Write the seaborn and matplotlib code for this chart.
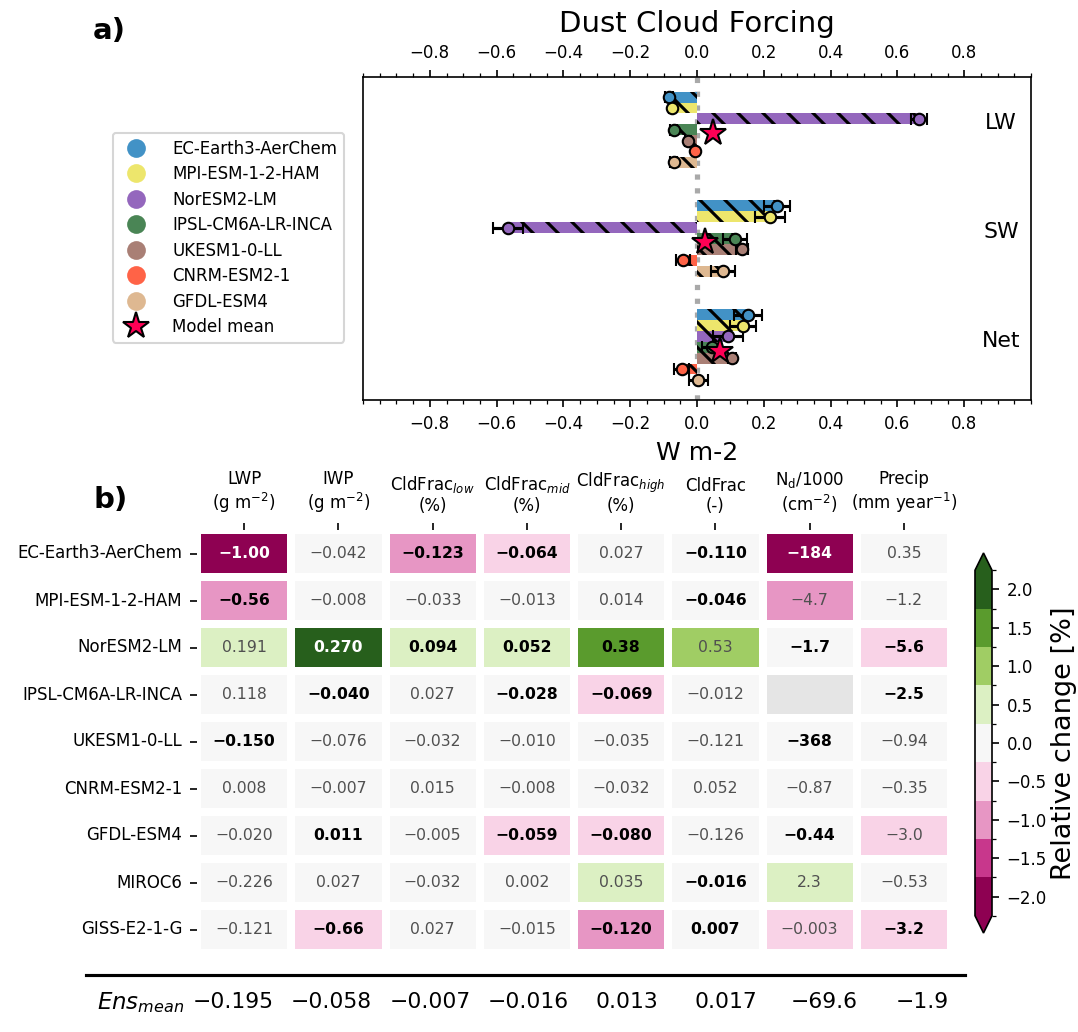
import numpy as np
import pandas as pd
import matplotlib
matplotlib.use("Agg")
import matplotlib.pyplot as plt
import seaborn as sns
from matplotlib.colors import ListedColormap, BoundaryNorm
from matplotlib.cm import ScalarMappable
from matplotlib.lines import Line2D
from matplotlib.ticker import MultipleLocator

# ---------------------------------------------------------------
# Panel a) data - dust cloud forcing per model (W m-2)
# ---------------------------------------------------------------
models_a = ["EC-Earth3-AerChem", "MPI-ESM-1-2-HAM", "NorESM2-LM",
            "IPSL-CM6A-LR-INCA", "UKESM1-0-LL", "CNRM-ESM2-1", "GFDL-ESM4"]
model_colors = ["#4292c6", "#ede66c", "#9467bd", "#4a8555",
                "#a97f75", "#ff6347", "#deb891"]
components = ["LW", "SW", "Net"]

lw_vals = [-0.084, -0.075, 0.665, -0.070, -0.027, -0.005, -0.070]
sw_vals = [0.240, 0.219, -0.566, 0.114, 0.135, -0.042, 0.078]
net_vals = [0.153, 0.138, 0.093, 0.044, 0.105, -0.046, 0.004]

lw_err = [0.012, 0.010, 0.025, 0.010, 0.008, 0.005, 0.010]
sw_err = [0.038, 0.045, 0.045, 0.035, 0.018, 0.020, 0.035]
net_err = [0.042, 0.040, 0.045, 0.028, 0.012, 0.022, 0.028]

# ---------------------------------------------------------------
# Panel b) data - heatmap of changes in cloud properties
# ---------------------------------------------------------------
models_b = ["EC-Earth3-AerChem", "MPI-ESM-1-2-HAM", "NorESM2-LM",
            "IPSL-CM6A-LR-INCA", "UKESM1-0-LL", "CNRM-ESM2-1",
            "GFDL-ESM4", "MIROC6", "GISS-E2-1-G"]
var_labels = ["LWP\n(g m$^{-2}$)", "IWP\n(g m$^{-2}$)",
              "CldFrac$_{low}$\n(%)", "CldFrac$_{mid}$\n(%)",
              "CldFrac$_{high}$\n(%)", "CldFrac\n(-)",
              "N$_\\mathrm{d}$/1000\n(cm$^{-2}$)", "Precip\n(mm year$^{-1}$)"]

# relative change [%] (colour of each cell)
rel_change = [
    [-2.0, 0.0, -1.0, -0.5, 0.0, 0.0, -2.0, 0.0],
    [-1.0, 0.0, 0.0, 0.0, 0.0, 0.0, -1.0, 0.0],
    [0.5, 2.0, 0.5, 0.5, 1.5, 1.0, 0.0, -0.5],
    [0.0, 0.0, 0.0, 0.0, -0.5, 0.0, np.nan, 0.0],
    [0.0, 0.0, 0.0, 0.0, 0.0, 0.0, 0.0, 0.0],
    [0.0, 0.0, 0.0, 0.0, 0.0, 0.0, 0.0, 0.0],
    [0.0, 0.0, 0.0, -0.5, -0.5, 0.0, 0.0, -0.5],
    [0.0, 0.0, 0.0, 0.0, 0.5, 0.0, 0.5, 0.0],
    [0.0, -0.5, 0.0, 0.0, -1.0, 0.0, -0.5, -0.5],
]
# absolute change (annotation text)
cell_text = [
    ["−1.00", "−0.042", "−0.123", "−0.064", "0.027", "−0.110", "−184", "0.35"],
    ["−0.56", "−0.008", "−0.033", "−0.013", "0.014", "−0.046", "−4.7", "−1.2"],
    ["0.191", "0.270", "0.094", "0.052", "0.38", "0.53", "−1.7", "−5.6"],
    ["0.118", "−0.040", "0.027", "−0.028", "−0.069", "−0.012", "", "−2.5"],
    ["−0.150", "−0.076", "−0.032", "−0.010", "−0.035", "−0.121", "−368", "−0.94"],
    ["0.008", "−0.007", "0.015", "−0.008", "−0.032", "0.052", "−0.87", "−0.35"],
    ["−0.020", "0.011", "−0.005", "−0.059", "−0.080", "−0.126", "−0.44", "−3.0"],
    ["−0.226", "0.027", "−0.032", "0.002", "0.035", "−0.016", "2.3", "−0.53"],
    ["−0.121", "−0.66", "0.027", "−0.015", "−0.120", "0.007", "−0.003", "−3.2"],
]
# significant values shown in bold
cell_bold = [
    [1, 0, 1, 1, 0, 1, 1, 0],
    [1, 0, 0, 0, 0, 1, 0, 0],
    [0, 1, 1, 1, 1, 0, 1, 1],
    [0, 1, 0, 1, 1, 0, 0, 1],
    [1, 0, 0, 0, 0, 0, 1, 0],
    [0, 0, 0, 0, 0, 0, 0, 0],
    [0, 1, 0, 1, 1, 0, 1, 0],
    [0, 0, 0, 0, 0, 1, 0, 0],
    [0, 1, 0, 0, 1, 1, 0, 1],
]
ens_mean = ["−0.195", "−0.058", "−0.007", "−0.016", "0.013", "0.017", "−69.6", "−1.9"]

bin_colors = ["#8e0152", "#c8378c", "#e796c4", "#f9d3e7", "#f7f7f7",
              "#dcf0c3", "#a0cd64", "#5a9b2d", "#275f1c"]

plt.rcParams["hatch.linewidth"] = 1.5

W, H = 1078, 1032
fig = plt.figure(figsize=(W / 150, H / 150), dpi=150)

# ---------------------------------------------------------------
# a) bar chart
# ---------------------------------------------------------------
ax1 = fig.add_axes([363 / W, 1 - 400 / H, 668 / W, 323 / H])

df_a = pd.DataFrame({
    "component": np.repeat(components, len(models_a)),
    "model": models_a * len(components),
    "forcing": lw_vals + sw_vals + net_vals,
})
ax1.axvline(0, color="darkgrey", ls=":", lw=2.5, zorder=0)
sns.barplot(data=df_a, x="forcing", y="component", hue="model",
            order=components, hue_order=models_a, palette=model_colors,
            orient="h", width=0.7, saturation=1, errorbar=None,
            legend=False, ax=ax1)
for bar in ax1.patches:
    bar.set_hatch("\\\\")
    bar.set_edgecolor("black")
    bar.set_linewidth(0)

errs = [lw_err, sw_err, net_err]
vals = [lw_vals, sw_vals, net_vals]
for g, comp in enumerate(components):
    for i, m in enumerate(models_a):
        y = g + (i - 3) * 0.1
        ax1.errorbar(vals[g][i], y, xerr=errs[g][i], fmt="o",
                     mfc=model_colors[i], mec="black", ms=5.5, mew=1,
                     ecolor="black", elinewidth=1.5, capsize=3,
                     capthick=1.5, zorder=3)
    ax1.plot(np.mean(vals[g]), g + 0.03, marker="*", ms=13,
             mfc="#ff0055", mec="black", mew=1, ls="", zorder=5)
    ax1.text(0.91, g - 0.06, comp, ha="center", va="center", fontsize=10.5)

ax1.set_xlim(-1, 1)
ax1.set_xticks(np.round(np.arange(-4, 5) * 0.2, 1))
ax1.xaxis.set_minor_locator(MultipleLocator(0.05))
ax1.tick_params(axis="x", which="both", top=True, labeltop=True,
                bottom=True, labelbottom=True, labelsize=8)
ax1.set_yticks([])
ax1.set_ylabel("")
ax1.set_xlabel("W m-2", fontsize=12)
ax1.set_title("Dust Cloud Forcing", fontsize=14, pad=6)

handles = [Line2D([], [], marker="o", ls="", color=c, ms=9, mew=0)
           for c in model_colors]
handles.append(Line2D([], [], marker="*", ls="", mfc="#ff0055",
                      mec="black", mew=1, ms=13))
fig.legend(handles, models_a + ["Model mean"], loc="upper left",
           bbox_to_anchor=(113 / W, 1 - 133 / H), fontsize=8,
           borderaxespad=0, handletextpad=1.15, labelspacing=0.45)

# ---------------------------------------------------------------
# b) heatmap
# ---------------------------------------------------------------
ax2 = fig.add_axes([197 / W, 1 - 953 / H, 754 / W, 423 / H])
cmap = ListedColormap(bin_colors)
df_b = pd.DataFrame(rel_change, index=models_b, columns=var_labels)
ax2.set_facecolor("#e5e5e5")
sns.heatmap(df_b, ax=ax2, cmap=cmap, vmin=-2.25, vmax=2.25, cbar=False,
            linewidths=3, linecolor="white")

for i in range(len(models_b)):
    for j in range(len(var_labels)):
        txt = cell_text[i][j]
        if not txt:
            continue
        bold = cell_bold[i][j]
        if abs(rel_change[i][j]) >= 1.75:
            col = "white"
        elif bold:
            col = "black"
        else:
            col = "#505050"
        ax2.text(j + 0.5, i + 0.5, txt, ha="center", va="center",
                 fontsize=7.5, color=col,
                 fontweight="bold" if bold else "normal")

ax2.xaxis.tick_top()
ax2.set_xticklabels(var_labels, rotation=0, fontsize=8)
ax2.set_yticklabels(models_b, rotation=0, fontsize=8)
ax2.tick_params(axis="x", top=True, bottom=False)
ax2.set_xlabel("")
ax2.set_ylabel("")

# colorbar axes spans the extension tips
cax = fig.add_axes([975 / W, 1 - 933 / H, 17 / W, 380 / H])
bounds = np.arange(-2.25, 2.26, 0.5)
sm = ScalarMappable(norm=BoundaryNorm(bounds, len(bin_colors)), cmap=cmap)
cb = fig.colorbar(sm, cax=cax, extend="both", ticks=np.arange(-2, 2.01, 0.5))
cb.set_label("Relative change [%]", fontsize=13, labelpad=2)
cb.ax.tick_params(labelsize=8)

# ensemble mean row
fig.add_artist(Line2D([86 / W, 965 / W], [1 - 975 / H, 1 - 975 / H],
                      transform=fig.transFigure, color="black", lw=1.5))
fig.text(97 / W, 1 - 1003 / H, r"$Ens_{mean}$", fontsize=11,
         ha="left", va="center")
for j, txt in enumerate(ens_mean):
    fig.text((233 + 98.5 * j) / W, 1 - 1002 / H, txt, ha="center",
             va="center", fontsize=10.5)

fig.text(93 / W, 1 - 31 / H, "a)", fontsize=14, fontweight="bold", va="center")
fig.text(93 / W, 1 - 500 / H, "b)", fontsize=14, fontweight="bold", va="center")

fig.savefig("out.png", dpi=150)
